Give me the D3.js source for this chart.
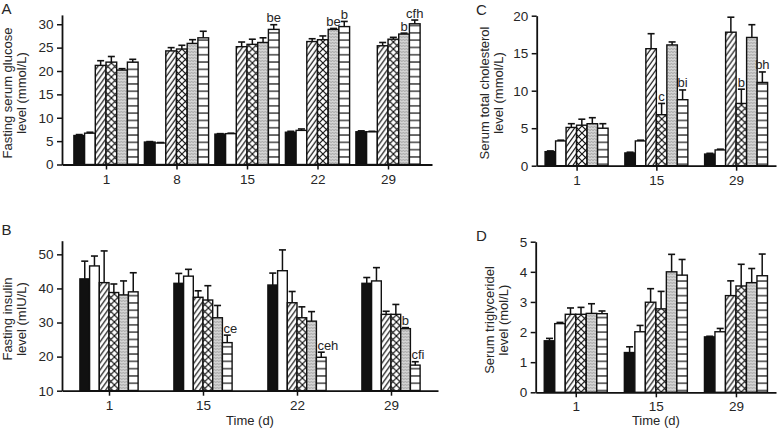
<!DOCTYPE html>
<html><head><meta charset="utf-8">
<script src="https://cdn.jsdelivr.net/npm/d3@7"></script>
<style>
body{margin:0;background:#fff}
svg{display:block}
text{font-family:"Liberation Sans",Arial,sans-serif;fill:#262626}
</style>
</head><body>
<svg id="c" width="777" height="431"></svg>
<script>
// ---------------- data ----------------
const seriesKeys = ["black","white","diag","cross","gray","horiz"];

// Panel A: fasting serum glucose (mmol/L)
const daysA = ["1","8","15","22","29"];
const glucoseMean = [
  [6.2, 4.8, 6.5, 6.9, 7.0],
  [6.7, 4.6, 6.6, 7.3, 7.0],
  [21.2, 24.3, 25.2, 26.3, 25.4],
  [21.9, 24.7, 25.7, 26.7, 26.8],
  [20.2, 25.9, 26.1, 28.9, 27.9],
  [21.9, 27.1, 28.9, 29.5, 30.1]
];
const glucoseErr = [
  [0.2, 0.1, 0.1, 0.2, 0.2],
  [0.2, 0.1, 0.1, 0.3, 0.1],
  [1.0, 0.7, 1.0, 0.6, 0.7],
  [1.2, 0.8, 1.1, 0.8, 0.4],
  [0.3, 0.8, 1.0, 0.2, 0.2],
  [0.6, 1.4, 1.0, 1.1, 0.8]
];
const yTicksA = [0, 5, 10, 15, 20, 25, 30];
const notesA = [[2,5,"be"],[3,4,"be"],[3,5,"b"],[4,4,"b"],[4,5,"cfh"]];

// Panel B: fasting insulin (mIU/L)
const daysB = ["1","15","22","29"];
const insulinMean = [
  [42.8, 41.5, 41.0, 41.5],
  [46.6, 43.6, 45.2, 42.2],
  [41.7, 37.4, 35.8, 32.4],
  [38.8, 36.6, 31.4, 32.4],
  [38.1, 31.4, 30.4, 28.2],
  [39.0, 24.1, 19.8, 17.5]
];
const insulinErr = [
  [5.2, 2.9, 3.5, 1.7],
  [2.9, 2.0, 6.1, 3.9],
  [9.3, 1.9, 3.3, 0.9],
  [2.5, 4.2, 3.2, 2.9],
  [4.1, 3.6, 2.8, 0.3],
  [5.6, 2.2, 1.5, 1.0]
];
const yTicksB = [10, 20, 30, 40, 50];
const notesB = [[1,5,"ce"],[2,5,"ceh"],[3,4,"b"],[3,5,"cfi"]];

// Panel C: serum total cholesterol (mmol/L)
const daysC = ["1","15","29"];
const cholMean = [
  [1.87, 1.7, 1.55],
  [3.3, 3.3, 2.1],
  [5.1, 15.6, 17.8],
  [5.4, 6.8, 8.3],
  [5.6, 16.1, 17.1],
  [5.0, 8.8, 11.1]
];
const cholErr = [
  [0.1, 0.1, 0.1],
  [0.1, 0.1, 0.1],
  [0.5, 2.0, 2.0],
  [0.8, 1.5, 1.9],
  [0.8, 0.4, 1.7],
  [0.6, 1.3, 1.4]
];
const yTicksC = [0, 5, 10, 15, 20];
const notesC = [[1,3,"c"],[1,5,"bi"],[2,3,"b"],[2,5,"bh"]];

// Panel D: serum triglyceride (mol/L)
const daysD = ["1","15","29"];
const trigMean = [
  [1.71, 1.32, 1.84],
  [2.28, 2.01, 2.01],
  [2.59, 2.99, 3.21],
  [2.59, 2.77, 3.53],
  [2.62, 4.00, 3.64],
  [2.61, 3.89, 3.87]
];
const trigErr = [
  [0.08, 0.19, 0.02],
  [0.04, 0.21, 0.11],
  [0.21, 0.45, 0.49],
  [0.23, 0.58, 0.72],
  [0.32, 0.58, 0.47],
  [0.09, 0.52, 0.72]
];
const yTicksD = [0, 1, 2, 3, 4, 5];
const notesD = [];

// ---------------- layout ----------------
const panels = [
  {id:"A", cats:daysA, mean:glucoseMean, err:glucoseErr, ticks:yTicksA, notes:notesA, domain:[0,32],
   xr:[62,432], yr:[164.5,14.9], pad:0.624, barW:10.7, align:"middle",
   title:["Fasting serum glucose","level (mmol/L)"], tx:[12,26], ty:93, letter:[1.5,13.5], time:false},
  {id:"B", cats:daysB, mean:insulinMean, err:insulinErr, ticks:yTicksB, notes:notesB, domain:[10,54],
   xr:[62,438], yr:[390.7,240.7], pad:0.5, barW:9.7, align:"start",
   title:["Fasting insulin","level (mIU/L)"], tx:[12,26], ty:319, letter:[1.5,235], time:true},
  {id:"C", cats:daysC, mean:cholMean, err:cholErr, ticks:yTicksC, notes:notesC, domain:[0,20],
   xr:[536.7,776], yr:[165.7,15.7], pad:0.5, barW:10.5, align:"middle",
   title:["Serum total cholesterol","level (mmol/L)"], tx:[488.5,502.5], ty:93, letter:[476,14.5], time:false},
  {id:"D", cats:daysD, mean:trigMean, err:trigErr, ticks:yTicksD, notes:notesD, domain:[0,5],
   xr:[535.7,776], yr:[392.3,241.7], pad:0.5, barW:10.5, align:"middle",
   title:["Serum triglyceridel","level (mol/L)"], tx:[494,507.5], ty:320, letter:[476,241], time:true}
];

const svg = d3.select("#c");
const defs = svg.append("defs");

function makePattern(id, key, x0) {
  const p = defs.append("pattern").attr("id", id).attr("patternUnits","userSpaceOnUse");
  if (key === "diag") {
    const w = 5, h = 7;
    p.attr("x", x0).attr("y", 0).attr("width", w).attr("height", h);
    p.append("rect").attr("width", w).attr("height", h).attr("fill", "#fff");
    for (const k of [-1, 0, 1]) {
      p.append("line").attr("x1", -1).attr("y1", h + h / w + k * h)
        .attr("x2", w + 1).attr("y2", -h / w + k * h)
        .attr("stroke", "#111").attr("stroke-width", 1.2);
    }
  } else if (key === "cross") {
    const w = 7;
    p.attr("x", x0 - 1.6).attr("y", 0).attr("width", w).attr("height", w);
    p.append("rect").attr("width", w).attr("height", w).attr("fill", "#fff");
    p.append("path").attr("d", `M-1,-1L${w+1},${w+1}M-1,${w+1}L${w+1},-1`)
      .attr("stroke", "#111").attr("stroke-width", 1.2).attr("fill","none");
  } else if (key === "horiz") {
    const h = 7.3;
    p.attr("x", 0).attr("y", 0).attr("width", 10).attr("height", h);
    p.append("rect").attr("width", 10).attr("height", h).attr("fill", "#fff");
    p.append("line").attr("x1", 0).attr("x2", 10).attr("y1", h / 2).attr("y2", h / 2)
      .attr("stroke", "#111").attr("stroke-width", 1.2);
  } else if (key === "gray") {
    p.attr("x", x0).attr("y", 0).attr("width", 3).attr("height", 3);
    p.append("rect").attr("width", 3).attr("height", 3).attr("fill", "#d4d4d4");
    p.append("path").attr("d", "M0,1.5L1.5,0.5L3,1.5").attr("stroke", "#8a8a8a")
      .attr("stroke-width", 0.7).attr("fill", "none");
  }
}

panels.forEach(P => {
  const g = svg.append("g");
  const x = d3.scalePoint().domain(P.cats).range(P.xr).padding(P.pad);
  const y = d3.scaleLinear().domain(P.domain).range(P.yr);
  const groupW = P.barW * seriesKeys.length;
  const base = y(P.domain[0]);
  const barX = (ci, si) => x(P.cats[ci]) - groupW / 2 + si * P.barW;

  // bars
  seriesKeys.forEach((key, si) => {
    P.cats.forEach((c, ci) => {
      const v = P.mean[si][ci];
      const bx = barX(ci, si);
      let fill;
      if (key === "black") fill = "#111";
      else if (key === "white") fill = "#fff";
      else {
        const pid = `p${P.id}${ci}${si}`;
        makePattern(pid, key, bx);
        fill = `url(#${pid})`;
      }
      g.append("rect").attr("x", bx).attr("y", y(v))
        .attr("width", P.barW).attr("height", base - y(v))
        .attr("fill", fill).attr("stroke", "#111").attr("stroke-width", 1.4);
    });
  });

  // error bars
  seriesKeys.forEach((key, si) => {
    P.cats.forEach((c, ci) => {
      const v = P.mean[si][ci], e = P.err[si][ci];
      const cx = barX(ci, si) + P.barW / 2;
      const y1 = y(v), y2 = y(v + e);
      g.append("line").attr("x1", cx).attr("x2", cx).attr("y1", y1).attr("y2", y2)
        .attr("stroke", "#111").attr("stroke-width", 1.5);
      g.append("line").attr("x1", cx - 3.5).attr("x2", cx + 3.5).attr("y1", y2).attr("y2", y2)
        .attr("stroke", "#111").attr("stroke-width", 1.6);
    });
  });

  // significance notes
  P.notes.forEach(([ci, si, t]) => {
    const v = P.mean[si][ci] + P.err[si][ci];
    const bx = barX(ci, si);
    g.append("text")
      .attr("x", P.align === "start" ? bx + 1 : bx + P.barW / 2)
      .attr("y", y(v) - 2.5)
      .attr("text-anchor", P.align)
      .attr("font-size", 13)
      .text(t);
  });

  // axes
  const ya = g.append("g").attr("transform", `translate(${P.xr[0]},0)`)
    .call(d3.axisLeft(y).tickValues(P.ticks).tickFormat(d3.format("d"))
      .tickSize(5).tickSizeOuter(0).tickPadding(3.5));
  const xa = g.append("g").attr("transform", `translate(0,${base})`)
    .call(d3.axisBottom(x).tickSize(5).tickSizeOuter(0).tickPadding(4.5));
  [ya, xa].forEach(a => {
    a.select(".domain").attr("stroke", "#111").attr("stroke-width", 1.8);
    a.selectAll(".tick line").attr("stroke", "#111").attr("stroke-width", 1.5);
    a.selectAll(".tick text").attr("font-size", 13.5).attr("fill", "#262626")
      .style("font-family", '"Liberation Sans",Arial,sans-serif');
  });

  // y titles
  P.title.forEach((t, i) => {
    g.append("text").attr("transform", `translate(${P.tx[i]},${P.ty}) rotate(-90)`)
      .attr("text-anchor", "middle").attr("font-size", 13).text(t);
  });

  // panel letter
  g.append("text").attr("x", P.letter[0]).attr("y", P.letter[1])
    .attr("font-size", 15).text(P.id);

  if (P.time) {
    g.append("text").attr("x", (P.xr[0] + P.xr[1]) / 2).attr("y", 425)
      .attr("text-anchor", "middle").attr("font-size", 13).text("Time (d)");
  }
});
</script>
</body></html>
